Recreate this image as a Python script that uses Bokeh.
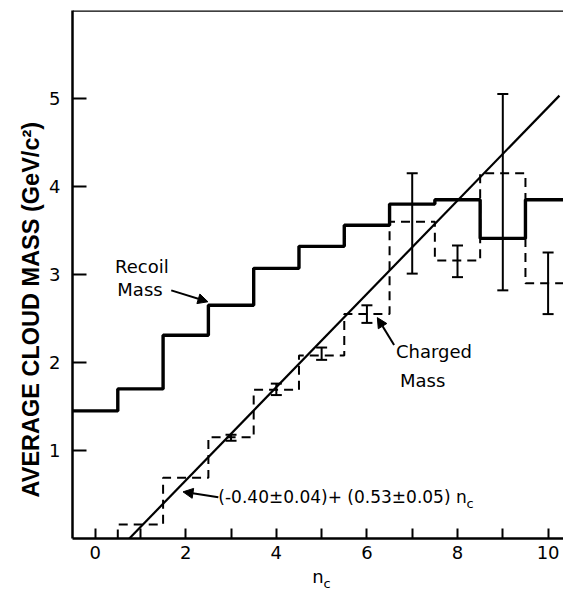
import math
from bokeh.plotting import figure
from bokeh.models import (ColumnDataSource, Whisker, TeeHead, Label, Arrow, NormalHead,
                          Span, FixedTicker, Range1d, Title)
from bokeh.embed import file_html
from bokeh.resources import INLINE

# ---- data ----
n_recoil = [0, 1, 2, 3, 4, 5, 6, 7, 8, 9, 10]
recoil_mass = [1.45, 1.70, 2.31, 2.65, 3.07, 3.32, 3.56, 3.80, 3.85, 3.41, 3.85]

n_charged = [1, 2, 3, 4, 5, 6, 7, 8, 9, 10]
charged_mass = [0.16, 0.69, 1.15, 1.69, 2.08, 2.55, 3.60, 3.16, 4.15, 2.90]

err_n = [3, 4, 5, 6, 7, 8, 9, 10]
err_lower = [1.11, 1.63, 2.03, 2.45, 3.01, 2.97, 2.82, 2.55]
err_upper = [1.18, 1.76, 2.17, 2.65, 4.15, 3.33, 5.05, 3.25]

fit_intercept = -0.40
fit_slope = 0.53
fit_x_end = 10.25

x_ticks = [0, 1, 2, 3, 4, 5, 6, 7, 8, 9, 10]
x_tick_labels = {0: "0", 2: "2", 4: "4", 6: "6", 8: "8", 10: "10"}
y_ticks = [1, 2, 3, 4, 5]

FONT = "DejaVu Sans"

p = figure(width=563, height=590, output_backend="svg", toolbar_location=None,
           x_range=Range1d(-0.5, 10.34), y_range=Range1d(0, 6.0),
           min_border_left=72, min_border_right=0, min_border_top=10, min_border_bottom=52)
p.grid.visible = False
p.outline_line_color = None
p.background_fill_color = "white"

# step outlines from bin centres
def step_path(ns, vals, start_zero=False):
    xs, ys = [], []
    if start_zero:
        xs.append(ns[0] - 0.5); ys.append(0)
    for n, v in zip(ns, vals):
        xs += [n - 0.5, n + 0.5]
        ys += [v, v]
    return xs, ys

rx, ry = step_path(n_recoil, recoil_mass)
p.line(rx, ry, line_color="black", line_width=3.4)

cx, cy = step_path(n_charged, charged_mass, start_zero=True)
p.line(cx, cy, line_color="black", line_width=2, line_dash="9 6")

# fit line
x0 = -fit_intercept / fit_slope
p.line([x0, fit_x_end], [fit_intercept + fit_slope * x0, fit_intercept + fit_slope * fit_x_end],
       line_color="black", line_width=2.2)

# error bars
src = ColumnDataSource(dict(base=err_n, lower=err_lower, upper=err_upper))
w = Whisker(source=src, base="base", lower="lower", upper="upper", line_width=2,
            line_color="black",
            upper_head=TeeHead(size=11, line_width=2, line_color="black"),
            lower_head=TeeHead(size=11, line_width=2, line_color="black"))
p.add_layout(w)

# top border
p.add_layout(Span(location=6.0, dimension="width", line_color="black", line_width=2.5))

# axes
for ax in (p.xaxis[0], p.yaxis[0]):
    ax.axis_line_width = 2.5
    ax.major_tick_line_width = 2
    ax.minor_tick_line_color = None
    ax.major_tick_out = 0
    ax.major_label_text_font = FONT
    ax.major_label_text_font_size = "18px"
    ax.major_label_text_color = "black"

p.xaxis.ticker = FixedTicker(ticks=x_ticks)
p.xaxis.major_label_overrides = {t: x_tick_labels.get(t, "") for t in x_ticks}
p.xaxis.major_tick_in = 10
p.xaxis.major_label_standoff = 7
p.xaxis.axis_label = "n"
p.xaxis.axis_label_standoff = 4
p.xaxis.axis_label_text_font = FONT
p.xaxis.axis_label_text_font_style = "normal"
p.xaxis.axis_label_text_font_size = "18px"
p.xaxis.axis_label_text_color = "black"

p.yaxis.ticker = FixedTicker(ticks=y_ticks)
p.yaxis.major_tick_in = 14
p.yaxis.major_label_standoff = 12

# subscript of the x label
p.add_layout(Title(text="c", align="left", offset=251, standoff=-27, vertical_align="top",
                   text_font=FONT, text_font_style="normal", text_font_size="13px",
                   text_color="black"), "below")

# y axis title
p.add_layout(Title(text="AVERAGE CLOUD MASS (GeV/c²)", align="left", offset=41, standoff=5,
                   text_font="Liberation Sans", text_font_style="bold",
                   text_font_size="23.5px", text_color="black"), "left")

# annotations
def lab(x, y, t, size="18px", align="left"):
    p.add_layout(Label(x=x, y=y, text=t, text_align=align, text_baseline="middle",
                       text_font=FONT, text_font_size=size, text_color="black"))

lab(0.44, 3.09, "Recoil")
lab(0.49, 2.83, "Mass")
lab(6.64, 2.125, "Charged")
lab(6.73, 1.80, "Mass")
lab(2.72, 0.47, "(-0.40±0.04)+ (0.53±0.05) n", size="17px")
lab(8.20, 0.40, "c", size="13px")

def arrow(x_start, y_start, x_end, y_end):
    p.add_layout(Arrow(x_start=x_start, y_start=y_start, x_end=x_end, y_end=y_end,
                       line_width=2, line_color="black",
                       end=NormalHead(size=10, fill_color="black", line_color="black", line_width=1)))

arrow(1.68, 2.82, 2.49, 2.69)
arrow(6.60, 2.20, 6.23, 2.51)
arrow(2.72, 0.47, 1.94, 0.53)

open("out.html", "w").write(file_html(p, INLINE))
